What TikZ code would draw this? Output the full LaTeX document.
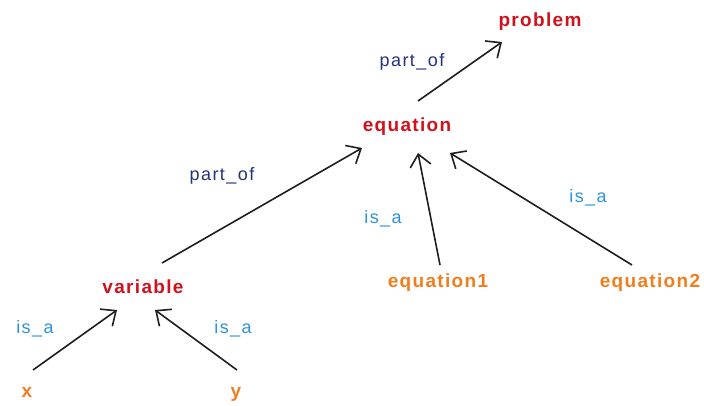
\documentclass[tikz,border=0pt]{standalone}
\usepackage{fontspec}
\setmainfont{Liberation Sans}
\usepackage{tikz}
\usetikzlibrary{
  arrows.meta,
  positioning,
  calc
}
\definecolor{conceptred}{RGB}{208,18,28}
\definecolor{leaforange}{RGB}{240,125,30}
\definecolor{isablue}{RGB}{45,145,220}
\definecolor{partnavy}{RGB}{35,50,125}
\definecolor{darkgray}{RGB}{30,30,30}
\tikzset{
  concept/.style={font=\fontsize{19}{22}\selectfont\bfseries\addfontfeature{LetterSpace=7},
    text=conceptred, anchor=base, inner sep=0pt},
  leaf/.style={concept, text=leaforange},
  isalabel/.style={font=\fontsize{18}{21}\selectfont\addfontfeature{LetterSpace=8},
    text=isablue, anchor=base, inner sep=0pt},
  partlabel/.style={isalabel, text=partnavy},
  rel/.style={darkgray, line width=1.6pt,
    -{Straight Barb[length=12pt,width=21pt,line width=1.6pt]}}
}

\begin{document}
\begin{tikzpicture}[x=1pt,y=1pt]
  \useasboundingbox (0,0) rectangle (704,405);

  % concepts
  \node[concept] (problem)  at (540,378) {problem};
  \node[concept] (equation) at (407,273) {equation};
  \node[concept] (variable) at (143,112) {variable};

  % instances
  \node[leaf] (x)         at (27,8)    {x};
  \node[leaf] (y)         at (236,8)   {y};
  \node[leaf] (equation1) at (438,118) {equation1};
  \node[leaf] (equation2) at (650,118) {equation2};

  % links
  \draw[rel] ($(equation.base)+(11,31)$)  -- ($(problem.base)+(-38,-15)$);
  \draw[rel] ($(variable.base)+(19,30)$)  -- ($(equation.base)+(-45,-16)$);
  \draw[rel] ($(equation1.base)+(2,22)$)  -- ($(equation.base)+(11,-21)$);
  \draw[rel] ($(equation2.base)+(-18,22)$) -- ($(equation.base)+(43,-21)$);
  \draw[rel] ($(x.base)+(6,27)$)          -- ($(variable.base)+(-26,-17)$);
  \draw[rel] ($(y.base)+(1,27)$)          -- ($(variable.base)+(12,-17)$);

  % link labels
  \node[partlabel] (pofTop) at (412,338) {part\_of};
  \node[partlabel] (pofVar) at (222,225) {part\_of};
  \node[isalabel] (isaEqA) at (383,182) {is\_a};
  \node[isalabel] (isaEqB) at (588,203) {is\_a};
  \node[isalabel] (isaX)   at (35,72)   {is\_a};
  \node[isalabel] (isaY)   at (233,72)  {is\_a};

\end{tikzpicture}
\end{document}
